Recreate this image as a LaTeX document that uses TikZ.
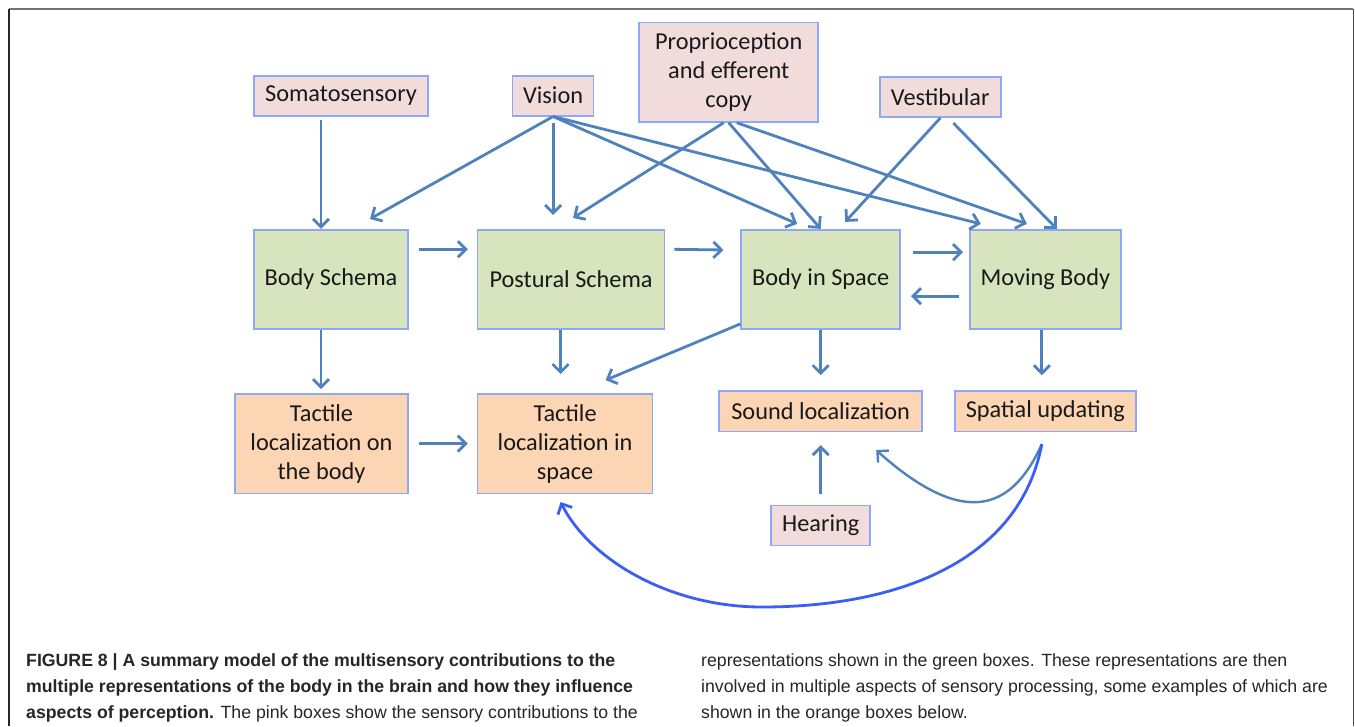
\documentclass[tikz,border=0pt]{standalone}
\usepackage{fontspec}
\setmainfont{Carlito}
\newfontfamily\capfont{Liberation Sans}
\usetikzlibrary{arrows,arrows.meta,positioning}
\usepackage{xcolor}

\definecolor{pinkfill}{HTML}{F2DCDB}
\definecolor{greenfill}{HTML}{D7E4BD}
\definecolor{orangefill}{HTML}{FCD5B5}
\definecolor{boxline}{HTML}{8DA9F5}
\definecolor{arrowblue}{HTML}{4F81BD}
\definecolor{loopblue}{HTML}{3B5EF5}

\begin{document}
\begin{tikzpicture}[
            x=1pt, y=-1pt,
            >={Straight Barb[length=8pt,width=16pt]},
            every node/.style={font=\fontsize{24.3}{29}\selectfont, text=black!90, align=center, inner sep=0pt},
            sense/.style={draw=boxline, line width=1.6pt, fill=pinkfill, minimum height=40pt},
            rep/.style={draw=boxline, line width=1.6pt, fill=greenfill, minimum height=99pt},
            task/.style={draw=boxline, line width=1.6pt, fill=orangefill},
            link/.style={->, draw=arrowblue, line width=2.8pt},
            back/.style={->, draw=loopblue, line width=2.8pt},
            caption/.style={font=\capfont\fontsize{17.7}{26}\selectfont, text=black!85, align=left, anchor=north west}
        ]
            \useasboundingbox (0,0) rectangle (1355,726);
            \draw[black!55, line width=1.2pt] (9,9) -- (1353,9);
            \draw[black!85, line width=1.2pt] (9,9) -- (9,726);
            \draw[black!70, line width=1pt] (1353,9) -- (1353,726);

            % representations of the body
            \node[rep, minimum width=154pt] (bschema) at (331,279.2) {Body Schema};
            \node[rep, minimum width=187pt, right=68pt of bschema] (pschema) {Postural Schema};
            \node[rep, minimum width=159pt, right=75pt of pschema] (bspace) {Body in Space};
            \node[rep, minimum width=151pt, right=68pt of bspace] (moving) {Moving Body};

            % sensory contributions
            \node[sense, minimum width=174pt, above=112.4pt of bschema, xshift=10pt] (soma) {Somatosensory};
            \node[sense, minimum width=81pt, right=83pt of soma] (vision) {Vision};
            \node[sense, minimum width=179pt, minimum height=99.4pt, right=44pt of vision, yshift=23.5pt] (proprio) {Proprioception\\and efferent\\copy};
            \node[sense, minimum width=121pt, right=60pt of proprio, yshift=-25pt] (vestib) {Vestibular};

            % processing
            \node[task, minimum width=173pt, minimum height=99.4pt, below=63.6pt of bschema, xshift=-9.5pt] (tbody) {Tactile\\localization on\\the body};
            \node[task, minimum width=175pt, minimum height=99.4pt, right=68pt of tbody] (tspace) {Tactile\\localization in\\space};
            \node[task, minimum width=203pt, minimum height=40.3pt, below=60.7pt of bspace] (sound) {Sound localization};
            \node[task, minimum width=181pt, minimum height=40.3pt, right=31pt of sound] (spatial) {Spatial updating};
            \node[sense, minimum width=99pt, below=72.7pt of sound] (hearing) {Hearing};

            % senses to representations
            \draw[link] ([xshift=-20pt,yshift=-3pt]soma.south) -- ([xshift=-10pt]bschema.north);
            \draw[link] (vision.south) -- ([xshift=39pt,yshift=10pt]bschema.north);
            \draw[link] ([yshift=-6pt]vision.south) -- ([xshift=-18pt,yshift=14pt]pschema.north);
            \draw[link] (vision.south) -- ([xshift=-23.5pt,yshift=5pt]bspace.north);
            \draw[link] (vision.south) -- ([xshift=-64.5pt,yshift=5pt]moving.north);
            \draw[link] ([xshift=-5pt]proprio.south) -- ([xshift=2pt,yshift=11pt]pschema.north);
            \draw[link] (proprio.south) -- (bspace.north);
            \draw[link] ([xshift=8pt]proprio.south) -- ([xshift=-18.5pt,yshift=5pt]moving.north);
            \draw[link] (vestib.south) -- ([xshift=24.5pt,yshift=7pt]bspace.north);
            \draw[link] ([xshift=13pt,yshift=-5pt]vestib.south) -- ([xshift=11.5pt]moving.north);

            % between representations
            \draw[link, shorten <=10pt, shorten >=9pt] ([yshift=30pt]bschema.east) -- ([yshift=30pt]pschema.west);
            \draw[link, shorten <=9pt, shorten >=17pt] ([yshift=30pt]pschema.east) -- ([yshift=29pt]bspace.west);
            \draw[link, shorten <=12pt, shorten >=6pt] ([yshift=27pt]bspace.east) -- ([yshift=27pt]moving.west);
            \draw[link, shorten <=10pt, shorten >=10pt] ([yshift=-17pt]moving.west) -- ([yshift=-17pt]bspace.east);

            % representations to processing
            \draw[link, shorten >=4pt] ([xshift=-10pt]bschema.south) -- ([xshift=-0.5pt]tbody.north);
            \draw[link, shorten >=19pt] ([xshift=-10.5pt]pschema.south) -- ([xshift=-4.5pt]tspace.north);
            \draw[link] ([yshift=5.6pt]bspace.south west) -- ([xshift=40.5pt,yshift=13pt]tspace.north);
            \draw[link, shorten >=15pt] (bspace.south) -- (sound.north);
            \draw[link, shorten >=15pt] ([xshift=-3.5pt]moving.south) -- ([xshift=-3.5pt]spatial.north);
            \draw[link, shorten <=10pt, shorten >=9pt] (tbody.east) -- (tbody.east -| tspace.west);
            \draw[link, shorten <=11pt, shorten >=13pt] (hearing.north) -- (sound.south);

            % feedback from spatial updating
            \coordinate (loopbottom) at (762,607);
            \draw[link, line width=2.4pt] ([xshift=-3.5pt,yshift=-12pt]spatial.south) .. controls (1010,515) and (960,525) .. ([xshift=55.5pt,yshift=-18pt]sound.south);
            \draw[back] ([xshift=-3.5pt,yshift=-12pt]spatial.south) .. controls (1020,560) and (900,607) .. (loopbottom) .. controls (670,607) and (590,560) .. ([xshift=-4.5pt,yshift=-8pt]tspace.south);

            % caption
            \node[caption] (capleft) at (26,653) {{\bfseries FIGURE 8 | A summary model of the multisensory contributions to the}\\{\bfseries multiple representations of the body in the brain and how they influence}\\{\bfseries aspects of perception.} The pink boxes show the sensory contributions to the};
            \node[caption] (capright) at (701,653) {representations shown in the green boxes. These representations are then\\involved in multiple aspects of sensory processing, some examples of which are\\shown in the orange boxes below.};
        \end{tikzpicture}
\end{document}
